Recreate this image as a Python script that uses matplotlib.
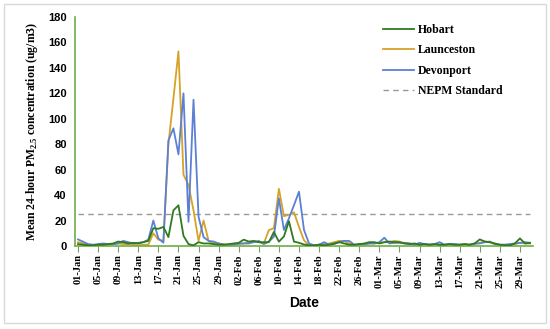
import numpy as np
import matplotlib
matplotlib.use("Agg")
import matplotlib.pyplot as plt
from matplotlib.patches import Rectangle

# Daily values, 01-Jan to 31-Mar (2020)
hobart = [1.5, 1.0, 0.5, 0.5, 1.0, 1.0, 1.5, 2.0, 3.5, 3.0, 2.0, 2.5, 2.0, 3.0, 4.0,
          14, 13.5, 15, 7, 28, 32, 8, 1.5, 0.5, 3, 2, 2, 1.5, 1, 1, 1.5,
          2, 2.5, 5, 3.5, 4, 3, 3, 3, 11, 3.4, 7.5, 19.5, 3.5, 2.5, 1.2, 0.5, 0.5, 1,
          0.5, 1, 2, 3, 2, 1, 1, 1.5, 2, 3, 3,
          2, 3, 3.5, 3, 3, 2, 1.5, 2, 1, 1.5, 1, 1.5, 1, 1, 1.5, 1, 1, 1.5, 1, 2,
          5.2, 3.5, 3, 2, 1, 0.5, 0.5, 2, 6, 2, 2.5]
launceston = [3, 2, 1, 0.5, 0.5, 1, 1, 1.5, 2, 1.5, 1.5, 1, 0.5, 1, 1,
              10, 5, 4, 80, 116, 153, 56, 48, 28, 4, 20, 4, 2, 2, 1.5, 0.5,
              1, 1.5, 2, 3, 3.5, 3, 2, 12.5, 14, 45, 23.5, 24.5, 26.5, 15, 4.5, 0.5, 0.5, 1,
              1.5, 2, 3, 4, 4, 2, 1, 1.5, 1, 2, 2,
              2.5, 3, 3, 4, 3.5, 2, 2, 1, 1, 1.5, 1, 1.5, 1, 1, 1.5, 1, 1, 1.5, 1, 1.5,
              2.5, 3.5, 3, 1.5, 1, 1, 1, 1.5, 2.5, 2, 2]
devonport = [5.2, 3.4, 1.5, 1, 1.5, 2, 1.5, 1.5, 2, 4, 3, 2, 2.5, 3, 5,
             20, 6, 2.6, 83, 92.5, 72, 120, 19, 115, 23, 7, 4, 3.5, 2, 1, 0.5,
             1, 2, 2, 2, 3, 4, 1.5, 3.4, 7.3, 37.5, 12.6, 21.8, 32, 42.7, 12.6, 2, 0.5, 1,
             3, 1, 1.5, 3, 4, 4, 1, 1, 1.5, 2, 2,
             3, 6.5, 2, 2.5, 2.5, 2.5, 2, 1, 2.5, 1.5, 1, 1.5, 3, 1, 1.5, 1.5, 1, 1, 1, 2,
             2, 3, 3.5, 1.5, 1, 1, 1.5, 2, 2.5, 3, 2.5]
nepm_standard = 25
tick_labels = ["01-Jan", "05-Jan", "09-Jan", "13-Jan", "17-Jan", "21-Jan", "25-Jan",
               "29-Jan", "02-Feb", "06-Feb", "10-Feb", "14-Feb", "18-Feb", "22-Feb",
               "26-Feb", "01-Mar", "05-Mar", "09-Mar", "13-Mar", "17-Mar", "21-Mar",
               "25-Mar", "29-Mar"]
tick_step = 4

days = np.arange(len(hobart))

plt.rcParams["mathtext.fontset"] = "custom"
plt.rcParams["mathtext.rm"] = "Liberation Serif:bold"
plt.rcParams["mathtext.bf"] = "Liberation Serif:bold"

fig = plt.figure(figsize=(5.5, 3.29), dpi=100)
fig.patch.set_facecolor("white")
fig.patches.append(Rectangle((4 / 550, 6 / 329), 542 / 550, 319 / 329, transform=fig.transFigure,
                             fill=False, edgecolor="#d9d9d9", linewidth=1.0))
ax = fig.add_axes([75 / 550, 1 - 246 / 329, 458 / 550, 229 / 329])

c_hob = "#2f7a1f"
c_lau = "#d6a227"
c_dev = "#5b80d4"
ax.plot(days, hobart, color=c_hob, lw=1.3, label="Hobart", zorder=3)
ax.plot(days, launceston, color=c_lau, lw=1.3, label="Launceston", zorder=2)
ax.plot(days, devonport, color=c_dev, lw=1.3, label="Devonport", zorder=2.5)
ax.plot(days, [nepm_standard] * len(days), color="#9a9a9a", lw=1.0, ls=(0, (4, 3)),
        label="NEPM Standard", zorder=1)

ax.set_xlim(-0.6, len(days) - 0.4)
ax.set_ylim(0, 180)
ax.set_yticks(np.arange(0, 181, 20))
ax.set_xticks(days[::tick_step][:len(tick_labels)])
ax.set_xticklabels(tick_labels, rotation=90, fontfamily="Liberation Serif",
                   fontweight="bold", fontsize=7.5)
for lab in ax.get_yticklabels():
    lab.set_fontfamily("Liberation Sans")
    lab.set_fontweight("bold")
    lab.set_fontsize(8)
ax.tick_params(axis="y", length=0, pad=6)
ax.tick_params(axis="x", length=4, width=0.8, color="#7a9a6a", pad=2)

for s in ["top", "right"]:
    ax.spines[s].set_visible(False)
ax.spines["left"].set_color("#70ad47")
ax.spines["bottom"].set_color("#70ad47")
ax.spines["left"].set_linewidth(1.2)
ax.spines["bottom"].set_linewidth(1.2)

ax.set_ylabel(r"Mean 24-hour PM$_{\mathrm{2.5}}$ concentration (ug/m3)",
              fontfamily="Liberation Serif", fontweight="bold", fontsize=8.5, labelpad=6)
ax.set_xlabel("Date", fontfamily="Liberation Sans", fontweight="bold", fontsize=10, labelpad=6)

leg = ax.legend(loc="upper left", bbox_to_anchor=(0.65, 1.015), frameon=False,
                prop={"family": "Liberation Serif", "weight": "bold", "size": 8.5},
                handlelength=2.6, handletextpad=0.35, labelspacing=0.7)

fig.savefig("out.png", dpi=100, facecolor="white")
